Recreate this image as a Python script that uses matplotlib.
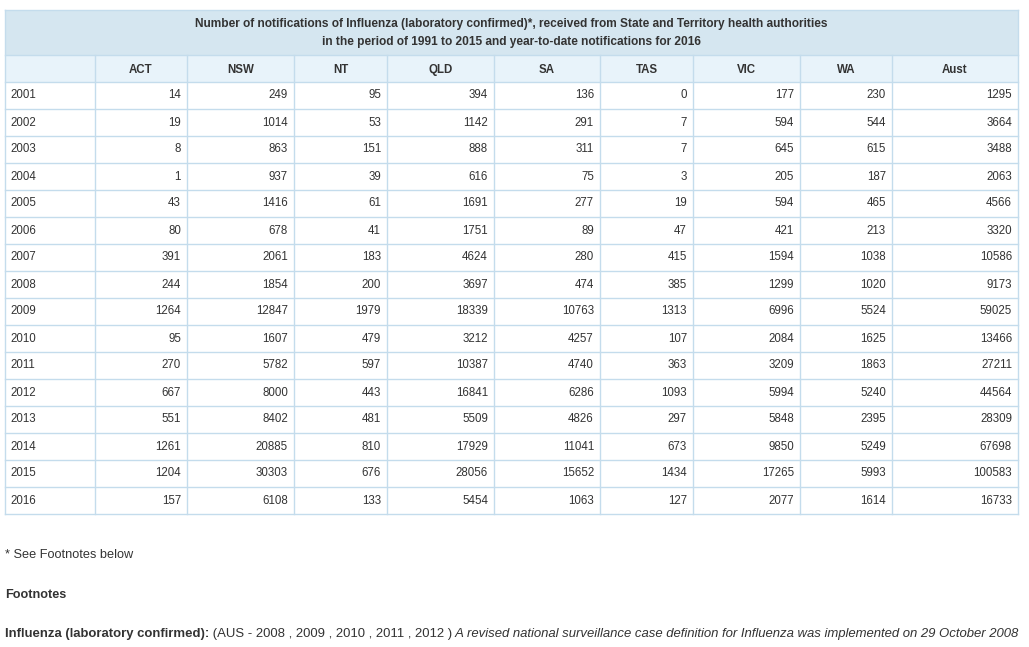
import numpy as np
import matplotlib
matplotlib.use('Agg')
import matplotlib.pyplot as plt
from matplotlib.patches import Rectangle

# %% data
years = ['2001', '2002', '2003', '2004', '2005', '2006', '2007', '2008',
         '2009', '2010', '2011', '2012', '2013', '2014', '2015', '2016']
columns = ['ACT', 'NSW', 'NT', 'QLD', 'SA', 'TAS', 'VIC', 'WA', 'Aust']
act = [14, 19, 8, 1, 43, 80, 391, 244, 1264, 95, 270, 667, 551, 1261, 1204, 157]
nsw = [249, 1014, 863, 937, 1416, 678, 2061, 1854, 12847, 1607, 5782, 8000,
       8402, 20885, 30303, 6108]
nt = [95, 53, 151, 39, 61, 41, 183, 200, 1979, 479, 597, 443, 481, 810, 676,
      133]
qld = [394, 1142, 888, 616, 1691, 1751, 4624, 3697, 18339, 3212, 10387,
       16841, 5509, 17929, 28056, 5454]
sa = [136, 291, 311, 75, 277, 89, 280, 474, 10763, 4257, 4740, 6286, 4826,
      11041, 15652, 1063]
tas = [0, 7, 7, 3, 19, 47, 415, 385, 1313, 107, 363, 1093, 297, 673, 1434,
       127]
vic = [177, 594, 645, 205, 594, 421, 1594, 1299, 6996, 2084, 3209, 5994,
       5848, 9850, 17265, 2077]
wa = [230, 544, 615, 187, 465, 213, 1038, 1020, 5524, 1625, 1863, 5240,
      2395, 5249, 5993, 1614]
aust = [1295, 3664, 3488, 2063, 4566, 3320, 10586, 9173, 59025, 13466,
        27211, 44564, 28309, 67698, 100583, 16733]
values = [act, nsw, nt, qld, sa, tas, vic, wa, aust]

title_lines = ['Number of notifications of Influenza (laboratory confirmed)*, '
               'received from State and Territory health authorities',
               'in the period of 1991 to 2015 and year-to-date notifications '
               'for 2016']

# %% layout (pixels)
W, H = 1029, 647
col_edges = [5, 95, 187, 294, 387, 494, 600, 693, 800, 892, 1018]
title_top, header_top, body_top, row_h = 10, 55, 82, 27
border = '#c4dcec'
title_bg = '#d5e6f0'
header_bg = '#e8f3fa'
txt = '#333333'
fs = 8.3

plt.rcParams['font.family'] = ['Liberation Sans', 'DejaVu Sans']

fig = plt.figure(figsize=(W / 100, H / 100), dpi=100)
ax = fig.add_axes([0, 0, 1, 1])
ax.set_xlim(0, W)
ax.set_ylim(H, 0)
ax.axis('off')

left, right = col_edges[0], col_edges[-1]
n = len(years)
bottom = body_top + row_h * n

# backgrounds
ax.add_patch(Rectangle((left, title_top), right - left, header_top - title_top,
                       facecolor=title_bg, edgecolor='none'))
ax.add_patch(Rectangle((left, header_top), right - left, body_top - header_top,
                       facecolor=header_bg, edgecolor='none'))

# grid lines
for y in [title_top, header_top] + [body_top + row_h * i for i in range(n + 1)]:
    ax.plot([left, right], [y, y], color=border, lw=1)
for i, x in enumerate(col_edges):
    y0 = title_top if i in (0, len(col_edges) - 1) else header_top
    ax.plot([x, x], [y0, bottom], color=border, lw=1)

# title
mid = (left + right) / 2
ax.text(mid, 26.5, title_lines[0], ha='center', va='baseline', fontsize=8.6,
        fontweight='bold', color=txt)
ax.text(mid, 45.5, title_lines[1], ha='center', va='baseline', fontsize=8.6,
        fontweight='bold', color=txt)

# header
for j, name in enumerate(columns):
    cx = (col_edges[j + 1] + col_edges[j + 2]) / 2
    ax.text(cx, 73, name, ha='center', va='baseline',
            fontsize=fs, fontweight='bold', color=txt)

# body
for i, yr in enumerate(years):
    cy = body_top + row_h * (i + 0.5)
    ax.text(left + 5, cy, yr, ha='left', va='center', fontsize=fs, color=txt)
    for j, col in enumerate(values):
        ax.text(col_edges[j + 2] - 6, cy, str(col[i]), ha='right',
                va='center', fontsize=fs, color=txt)

# footnotes
ax.text(5, 555, '* See Footnotes below', ha='left', va='center',
        fontsize=9.2, color=txt)
ax.text(5, 595, 'Footnotes', ha='left', va='center', fontsize=9.1,
        fontweight='bold', color=txt)

renderer = fig.canvas.get_renderer()
parts = [('Influenza (laboratory confirmed):', 'bold', 'normal'),
         (' (AUS - 2008 , 2009 , 2010 , 2011 , 2012 )', 'normal', 'normal'),
         (' A revised national surveillance case definition for Influenza '
          'was implemented on 29 October 2008', 'normal', 'italic')]
x = 5
for s, wgt, sty in parts:
    t = ax.text(x, 634, s, ha='left', va='center', fontsize=9.42,
                fontweight=wgt, fontstyle=sty, color=txt)
    bb = t.get_window_extent(renderer=renderer)
    x += bb.width

fig.savefig('out.png', dpi=100, facecolor='white')
